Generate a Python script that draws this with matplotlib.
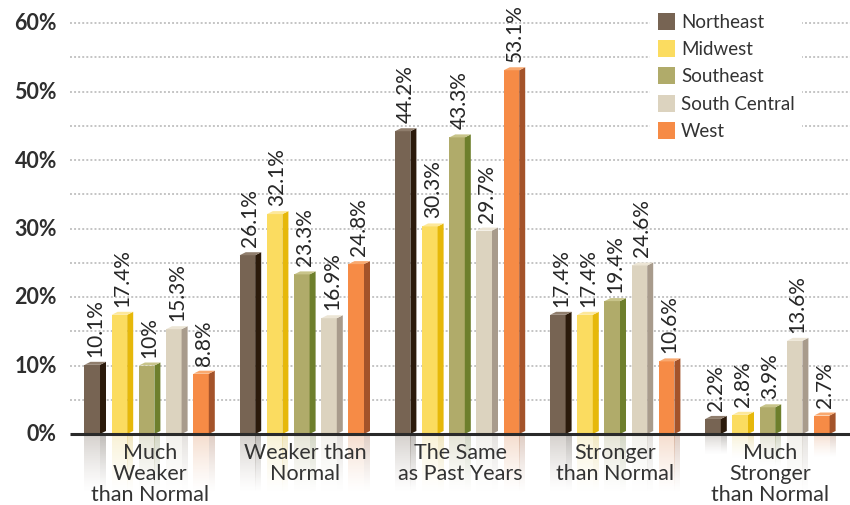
import numpy as np
import matplotlib
matplotlib.use("Agg")
import matplotlib.pyplot as plt
from matplotlib.patches import Polygon, Rectangle

# ---- data ----
categories = ["Much\nWeaker\nthan Normal", "Weaker than\nNormal", "The Same\nas Past Years",
              "Stronger\nthan Normal", "Much\nStronger\nthan Normal"]
regions = ["Northeast", "Midwest", "Southeast", "South Central", "West"]
northeast = [10.1, 26.1, 44.2, 17.4, 2.2]
midwest = [17.4, 32.1, 30.3, 17.4, 2.8]
southeast = [10, 23.3, 43.3, 19.4, 3.9]
south_central = [15.3, 16.9, 29.7, 24.6, 13.6]
west = [8.8, 24.8, 53.1, 10.6, 2.7]
series = [northeast, midwest, southeast, south_central, west]
yticks = [0, 10, 20, 30, 40, 50, 60]

# ---- styling ----
front_colors = ["#776453", "#fbdc60", "#b0ab6a", "#dcd3bf", "#f68b46"]
side_colors = ["#2b1a0b", "#e6b80a", "#6e7f2c", "#a89b8c", "#a4532a"]
top_colors = ["#8f7d6c", "#fde89a", "#c8c48a", "#ece5d5", "#f9a86e"]

FONT = ["Lato", "DejaVu Sans"]
W, H = 850, 506
BASE_PX, TOP_PX = 435, 24          # pixel rows of 0% and 60%
PX_PER_UNIT = (BASE_PX - TOP_PX) / 60.0

fig = plt.figure(figsize=(W / 100, H / 100), dpi=100)
ax = fig.add_axes([0, 0, 1, 1])
ax.axis("off")
ylo = -(H - BASE_PX) / PX_PER_UNIT
yhi = 60 + TOP_PX / PX_PER_UNIT


def py(p):
    """pixel row -> data y"""
    return (BASE_PX - p) / PX_PER_UNIT


# geometry (pixels along x, data x == pixel x)
x_start, group_pitch, bar_pitch = 84.5, 155.2, 27.2
front_w, side_w = 15.5, 6.0
depth = 3.0 / PX_PER_UNIT             # upward shift of the 3-D faces
fade_px = 60.0

# gridlines
for v in np.arange(5, 61, 5):
    ax.plot([70, 850], [v, v], color="#c4c4c4", lw=1.4,
            linestyle=(0, (1, 1.1)), zorder=1, solid_capstyle="round")

# y tick labels
for v in yticks:
    ax.text(57, v, f"{v}%", ha="right", va="center", fontsize=15.5,
            fontweight="bold", color="#2e2e2e", family=FONT)


def reflection(x0, x1, h, color):
    length = min(h * PX_PER_UNIT + 6, fade_px)
    hh = length / PX_PER_UNIT
    n = 64
    d = np.linspace(0, 1, n)
    alpha = 0.3 * (1 - d) ** 1.3
    grey = np.array(matplotlib.colors.to_rgb(color))
    grey = 0.75 * grey + 0.25 * grey.mean()
    rgba = np.zeros((n, 2, 4))
    rgba[..., :3] = grey
    rgba[..., 3] = alpha[:, None]
    ax.imshow(rgba, extent=[x0, x1, -hh, 0], origin="upper",
              aspect="auto", interpolation="bilinear", zorder=1)


for g in range(len(categories)):
    for j, vals in enumerate(series):
        v = vals[g]
        xl = x_start + g * group_pitch + j * bar_pitch
        xr = xl + front_w
        # front face
        ax.add_patch(Rectangle((xl, 0), front_w, v, facecolor=front_colors[j],
                               edgecolor="none", zorder=3))
        # side face
        ax.add_patch(Polygon([(xr, 0), (xr + side_w, depth), (xr + side_w, v + depth), (xr, v)],
                             closed=True, facecolor=side_colors[j], edgecolor="none", zorder=3))
        # top face
        ax.add_patch(Polygon([(xl, v), (xr, v), (xr + side_w, v + depth), (xl + side_w, v + depth)],
                             closed=True, facecolor=top_colors[j], edgecolor="none", zorder=3))
        # mirrored reflection below the baseline
        reflection(xl, xr, v, front_colors[j])
        reflection(xr, xr + side_w, v, side_colors[j])
        # value label
        ax.text(xl + (front_w + side_w) / 2, v + depth + 6 / PX_PER_UNIT, f"{v:g}%",
                rotation=90, ha="center", va="bottom", fontsize=15,
                color="#262626", family=FONT, zorder=5)
    gc = x_start + g * group_pitch + (4 * bar_pitch + front_w + side_w) / 2
    ax.text(gc, py(443), categories[g], ha="center", va="top", fontsize=15.5,
            color="#333333", family=FONT, linespacing=1.05, zorder=5)

# baseline
ax.plot([70, 850], [0, 0], color="#2a2a2a", lw=2.2, zorder=4, solid_capstyle="butt")

# legend
ax.add_patch(Rectangle((650, py(146)), 152, py(6) - py(146), facecolor="white",
                       edgecolor="none", zorder=2))
for j, name in enumerate(regions):
    cy = 22.5 + j * 27.2
    ax.add_patch(Rectangle((658, py(cy + 8.5)), 17, 17 / PX_PER_UNIT,
                           facecolor=front_colors[j], edgecolor="none", zorder=3))
    ax.text(681, py(cy), name, ha="left", va="center", fontsize=13.5,
            color="#333333", family=FONT, zorder=5)

ax.set_xlim(0, W)
ax.set_ylim(ylo, yhi)
fig.savefig("out.png", dpi=100)
